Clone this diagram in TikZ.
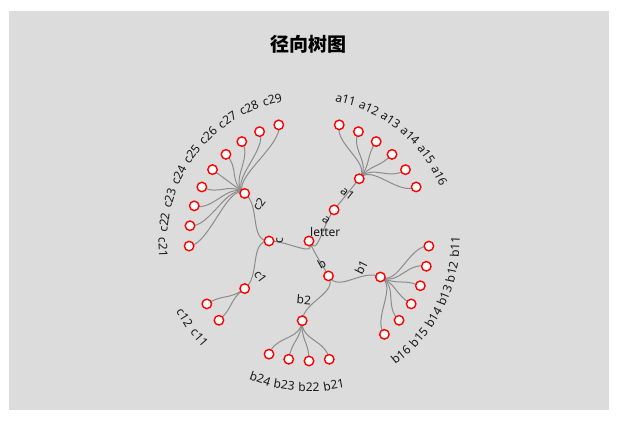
\documentclass[tikz,border=0pt]{standalone}
\usepackage{fontspec}
\setmainfont{Noto Sans}
\newfontfamily\cjkfont{Noto Sans CJK SC}
\definecolor{panelgray}{RGB}{220,220,220}
\definecolor{linkgray}{RGB}{140,140,140}
\definecolor{dotred}{RGB}{255,0,0}
\definecolor{labelink}{RGB}{25,25,25}
\pgfdeclarelayer{panel}
\pgfdeclarelayer{links}
\pgfsetlayers{panel,links,main}
% angle of slot #1, 37 slots round the circle
\newcommand{\leafang}[1]{75.405-(#1)*360/37}

\begin{document}
\begin{tikzpicture}[
        x=1pt, y=1pt,
        vertex/.style={circle, draw=dotred, fill=white, line width=1.4pt,
            inner sep=0pt, minimum size=9.5pt},
        link/.style={draw=linkgray, line width=1pt},
        lbl/.style={font=\fontsize{12}{14}\selectfont, text=labelink, inner sep=0pt},
        heading/.style={font=\cjkfont\bfseries\fontsize{19}{22}\selectfont, text=black}
    ]
    \useasboundingbox (-309,-181) rectangle (310,241);
    \begin{pgfonlayer}{panel}
        \fill[panelgray] (-300,-169) rectangle (300,230);
    \end{pgfonlayer}
    \node[heading] (title) at (0,197) {径向树图};

    % root
    \node[vertex] (root) at (0,0) {};
    \node[lbl, anchor=west] (root-text) at (1,9) {letter};

    % inner nodes: name/slot/radius/label offset
    \foreach \nm/\slt/\rad/\off in {a/2.5/40/13, b/14/40/14, c/26.25/40/10.6,
            a1/2.5/80/18.6, b1/10.5/80/21.5, b2/17.5/80/20.7,
            c1/22.5/80/19.6, c2/30/80/17.8} {
        \pgfmathsetmacro\ang{\leafang{\slt}}
        \pgfmathsetmacro\angn{\ang < -179 ? \ang+360 : \ang}
        \pgfmathsetmacro\rot{\angn > 0 ? \angn-90 : \angn+90}
        \pgfmathsetmacro\rlbl{\rad-\off}
        \node[vertex] (\nm) at (\ang:\rad) {};
        \node[lbl, rotate=\rot] (\nm-text) at (\ang:\rlbl) {\nm};
    }

    % inner links
    \foreach \src/\srcs/\srcr/\dst/\dsts/\dstr in {root/14.375/0/a/2.5/40,
            root/14.375/0/b/14/40, root/14.375/0/c/26.25/40,
            a/2.5/40/a1/2.5/80, b/14/40/b1/10.5/80, b/14/40/b2/17.5/80,
            c/26.25/40/c1/22.5/80, c/26.25/40/c2/30/80} {
        \pgfmathsetmacro\angs{\leafang{\srcs}}
        \pgfmathsetmacro\angd{\leafang{\dsts}}
        \pgfmathsetmacro\rmid{(\srcr+\dstr)/2}
        \begin{pgfonlayer}{links}
            \draw[link] (\src.center) .. controls (\angs:\rmid) and (\angd:\rmid) .. (\dst.center);
        \end{pgfonlayer}
    }

    % leaves: parent/first slot/count
    \foreach \grp/\first/\cnt in {a1/0/6, b1/8/6, b2/16/4, c1/22/2, c2/26/9} {
        \pgfmathsetmacro\angp{\leafang{\first+(\cnt-1)/2}}
        \foreach \k in {1,...,\cnt} {
            \pgfmathsetmacro\ang{\leafang{\first+\k-1}}
            \pgfmathsetmacro\angn{\ang < -179 ? \ang+360 : \ang}
            \pgfmathsetmacro\rot{\angn > 0 ? \angn-90 : \angn+90}
            \node[vertex] (\grp\k) at (\ang:120) {};
            \node[lbl, rotate=\rot] (\grp\k-text) at (\ang:146) {\grp\k};
            \begin{pgfonlayer}{links}
                \draw[link] (\grp.center) .. controls (\angp:100) and (\ang:100) .. (\grp\k.center);
            \end{pgfonlayer}
        }
    }
\end{tikzpicture}
\end{document}
